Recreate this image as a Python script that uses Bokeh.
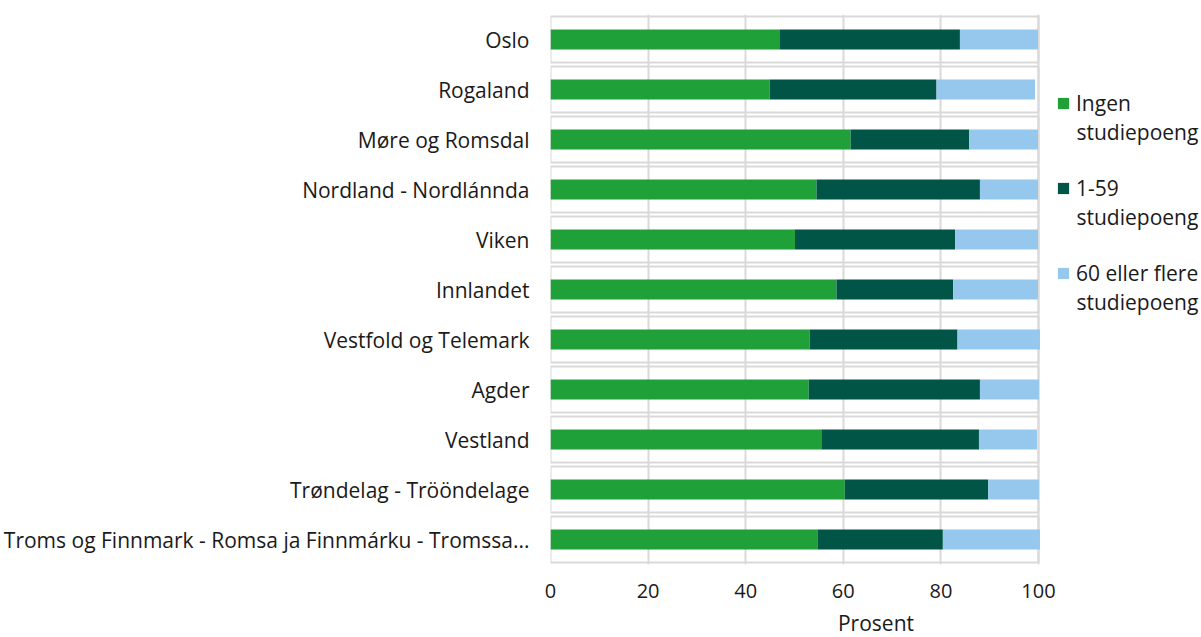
from bokeh.plotting import figure
from bokeh.models import FactorRange, Legend, LegendItem, FixedTicker, ColumnDataSource, Label
from bokeh.embed import file_html
from bokeh.resources import INLINE

regions = ["Oslo", "Rogaland", "Møre og Romsdal", "Nordland - Nordlánnda", "Viken",
           "Innlandet", "Vestfold og Telemark", "Agder", "Vestland",
           "Trøndelag - Trööndelage", "Troms og Finnmark - Romsa ja Finnmárku - Tromssa..."]
ingen = [46.9, 44.9, 61.5, 54.5, 50.1, 58.6, 53.1, 52.9, 55.5, 60.3, 54.7]
en_59 = [37.0, 34.2, 24.3, 33.5, 32.8, 23.9, 30.3, 35.1, 32.3, 29.4, 25.7]
seksti = [16.0, 20.2, 14.1, 11.9, 17.0, 17.4, 16.9, 12.1, 11.9, 10.4, 19.9]
series_first = ["Ingen", "1-59", "60 eller flere"]
series_second = ["studiepoeng", "studiepoeng", "studiepoeng"]
colors = ["#20A039", "#005546", "#96C7EC"]
x_ticks = [0, 20, 40, 60, 80, 100]

FONT = "Open Sans"
TXT = "#1a1a1a"
factors = list(reversed(regions))

src = ColumnDataSource(dict(region=regions, ingen=ingen, en_59=en_59, seksti=seksti,
                            full=[100] * len(regions), mid=[50] * len(regions)))

FRAME_W, FRAME_H, BAR_W = 651, 550, 488
# frame spans the bar area plus room on the right for the legend
p = figure(y_range=FactorRange(*factors, range_padding=0), x_range=(0, 100 * FRAME_W / BAR_W),
           frame_width=FRAME_W, frame_height=FRAME_H, output_backend="svg", toolbar_location=None,
           min_border_left=550, min_border_top=14, min_border_right=0, min_border_bottom=0)
p.outline_line_color = None
p.background_fill_color = "white"

# row frames
p.rect(x="mid", y="region", width="full", height=0.92, source=src,
       fill_color=None, line_color="#d9d9d9", line_width=2)

r = p.hbar_stack(["ingen", "en_59", "seksti"], y="region", height=0.4, source=src,
                 color=colors, line_color=None)

# legend: first line of each entry with its swatch, second line as a label below
LEG_X, LEG_TOP, ITEM_H, PITCH = 506, 74, 30, 85
legend = Legend(items=[LegendItem(label=series_first[i], renderers=[r[i]]) for i in range(3)],
                location=(LEG_X, FRAME_H - LEG_TOP - 3 * ITEM_H - 2 * (PITCH - ITEM_H)),
                border_line_color=None, background_fill_alpha=0,
                label_text_font=FONT, label_text_font_size="21px", label_text_color=TXT,
                glyph_width=14, glyph_height=14, spacing=PITCH - ITEM_H, padding=0, margin=0,
                label_standoff=6, label_height=ITEM_H)
p.add_layout(legend, "center")
for i, t in enumerate(series_second):
    p.add_layout(Label(x=LEG_X + 20, y=FRAME_H - (LEG_TOP + ITEM_H / 2 + 28 + i * PITCH),
                       x_units="screen", y_units="screen", text=t, text_font=FONT,
                       text_font_size="21px", text_color=TXT, text_baseline="middle"))

p.xgrid.grid_line_color = "#d9d9d9"
p.xgrid.grid_line_width = 2
p.ygrid.grid_line_color = None
p.xaxis.ticker = FixedTicker(ticks=x_ticks)
p.xaxis.axis_label = "Prosent"
for ax in (p.xaxis, p.yaxis):
    ax.axis_line_color = None
    ax.major_tick_line_color = None
    ax.minor_tick_line_color = None
    ax.major_tick_out = 0
    ax.major_tick_in = 0
    ax.minor_tick_out = 0
    ax.major_label_text_font = FONT
    ax.major_label_text_color = TXT
p.yaxis.major_label_text_font_size = "21px"
p.xaxis.major_label_text_font_size = "20px"
p.xaxis.axis_label_text_font = FONT
p.xaxis.axis_label_text_font_size = "21px"
p.xaxis.axis_label_text_font_style = "normal"
p.xaxis.axis_label_text_color = TXT
p.xaxis.major_label_standoff = 19
p.xaxis.axis_label_standoff = 8
p.yaxis.major_label_standoff = 21

open("out.html", "w").write(file_html(p, INLINE))
